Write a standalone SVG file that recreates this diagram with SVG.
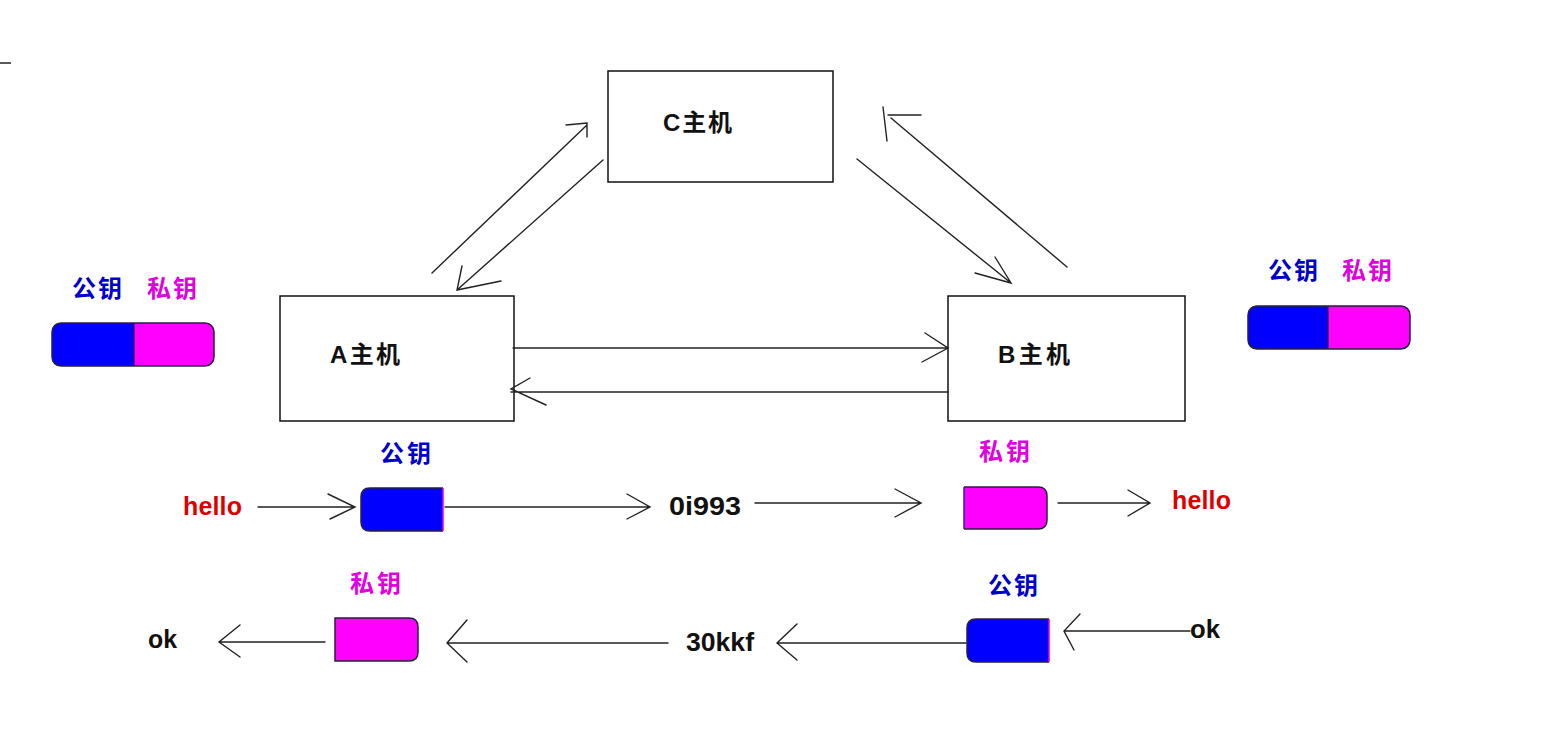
<svg xmlns="http://www.w3.org/2000/svg" width="1541" height="740" viewBox="0 0 1541 740">
<style>
.ln{stroke:#222;stroke-width:1.4;fill:none;stroke-linecap:round}
.box{fill:#fff;stroke:#111;stroke-width:1.5}
.t{font-family:"Liberation Sans","Noto Sans CJK SC",sans-serif;font-weight:bold}
.host{font-size:24px;fill:#111}
.pub{font-size:24px;fill:#0000cc}
.pri{font-size:24px;fill:#e000e0}
.red{font-size:25px;fill:#dd0000}
.blk{font-size:26px;fill:#111}
.bl{fill:#0000ff}
.mg{fill:#ff00ff}
.ol{fill:none;stroke:#2a1f40;stroke-width:1.5}
</style>
<rect width="1541" height="740" fill="#fff"/>
<line x1="0" y1="63" x2="11" y2="63" stroke="#222" stroke-width="1.5"/>

<g id="hostC">
<rect class="box" x="608" y="71" width="225" height="111"/>
<text class="t host" x="663" y="131" textLength="69" lengthAdjust="spacing">C主机</text>
</g>
<g id="hostA">
<rect class="box" x="280" y="296" width="234" height="125"/>
<text class="t host" x="330" y="363" textLength="70" lengthAdjust="spacing">A主机</text>
</g>
<g id="hostB">
<rect class="box" x="948" y="296" width="237" height="125"/>
<text class="t host" x="998" y="363" textLength="72" lengthAdjust="spacing">B主机</text>
</g>

<g id="keysA">
<text class="t pub" x="72" y="297" textLength="50" lengthAdjust="spacing">公钥</text>
<text class="t pri" x="147" y="297" textLength="50" lengthAdjust="spacing">私钥</text>
<path class="bl" d="M134,323 H61 Q52,323 52,332 V357 Q52,366 61,366 H134 Z"/>
<path class="mg" d="M134,323 H205 Q214,323 214,332 V357 Q214,366 205,366 H134 Z"/>
<rect class="ol" x="52" y="323" width="162" height="43" rx="9"/>
<line x1="134" y1="323" x2="134" y2="366" stroke="#2a1f40" stroke-width="1.3"/>
</g>
<g id="keysB">
<text class="t pub" x="1268" y="279" textLength="50" lengthAdjust="spacing">公钥</text>
<text class="t pri" x="1342" y="279" textLength="50" lengthAdjust="spacing">私钥</text>
<path class="bl" d="M1328,306 H1257 Q1248,306 1248,315 V340 Q1248,349 1257,349 H1328 Z"/>
<path class="mg" d="M1328,306 H1401 Q1410,306 1410,315 V340 Q1410,349 1401,349 H1328 Z"/>
<rect class="ol" x="1248" y="306" width="162" height="43" rx="9"/>
<line x1="1328" y1="306" x2="1328" y2="349" stroke="#2a1f40" stroke-width="1.3"/>
</g>

<g id="row1">
<text class="t red" x="183" y="515" textLength="59" lengthAdjust="spacing">hello</text>
<text class="t pub" x="380" y="462" textLength="51" lengthAdjust="spacing">公钥</text>
<path class="bl" d="M443,488 H370 Q361,488 361,497 V522 Q361,531 370,531 H443 Z"/>
<path class="ol" d="M443,488 H370 Q361,488 361,497 V522 Q361,531 370,531 H443"/>
<line x1="443" y1="488" x2="443" y2="531" stroke="#e000e0" stroke-width="1.5"/>
<text class="t blk" x="669" y="515" textLength="72" lengthAdjust="spacingAndGlyphs">0i993</text>
<text class="t pri" x="979" y="460" textLength="51" lengthAdjust="spacing">私钥</text>
<path class="mg" d="M964,487 H1038 Q1047,487 1047,496 V520 Q1047,529 1038,529 H964 Z"/>
<path class="ol" d="M964,487 H1038 Q1047,487 1047,496 V520 Q1047,529 1038,529 H964"/>
<line x1="964" y1="487" x2="964" y2="529" stroke="#2020c0" stroke-width="1.5"/>
<text class="t red" x="1172" y="509" textLength="59" lengthAdjust="spacing">hello</text>
</g>

<g id="row2">
<text class="t blk" x="148" y="648" textLength="29" lengthAdjust="spacingAndGlyphs">ok</text>
<text class="t pri" x="350" y="592" textLength="51" lengthAdjust="spacing">私钥</text>
<path class="mg" d="M335,618 H409 Q418,618 418,627 V652 Q418,661 409,661 H335 Z"/>
<path class="ol" d="M335,618 H409 Q418,618 418,627 V652 Q418,661 409,661 H335 Z"/>
<text class="t blk" x="686" y="651" textLength="68" lengthAdjust="spacingAndGlyphs">30kkf</text>
<text class="t pub" x="988" y="594" textLength="50" lengthAdjust="spacing">公钥</text>
<path class="bl" d="M1049,619 H976 Q967,619 967,628 V653 Q967,662 976,662 H1049 Z"/>
<path class="ol" d="M1049,619 H976 Q967,619 967,628 V653 Q967,662 976,662 H1049"/>
<line x1="1049" y1="619" x2="1049" y2="662" stroke="#e000e0" stroke-width="1.5"/>
<text class="t blk" x="1190" y="638" textLength="30" lengthAdjust="spacingAndGlyphs">ok</text>
</g>

<g id="connectors">
<path class="ln" d="M432,273 L587,125 M566,125 L587,123 L587,137"/>
<path class="ln" d="M603,160 L457,290 M462,266 L457,290 L501,281"/>
<path class="ln" d="M857,159 L1011,283 M995,257 L1011,283 L975,273"/>
<path class="ln" d="M1067,267 L891,118 M888,115 L921,115 M883,107 L887,141"/>
<path class="ln" d="M513,348 L948,348 M925,333 L948,348 L922,362"/>
<path class="ln" d="M948,392 L511,392 M530,378 L511,389 L546,405"/>
<path class="ln" d="M258,507 L355,507 M328,494 L355,507 L330,519"/>
<path class="ln" d="M445,507 L650,507 M627,494 L650,507 L627,519"/>
<path class="ln" d="M755,503 L921,503 M895,489 L921,503 L895,517"/>
<path class="ln" d="M1058,503 L1150,503 M1128,490 L1150,503 L1128,516"/>
<path class="ln" d="M325,642 L219,642 M240,625 L219,642 L240,657"/>
<path class="ln" d="M668,643 L447,643 M467,620 L447,643 L467,662"/>
<path class="ln" d="M966,643 L777,643 M797,624 L777,643 L797,660"/>
<path class="ln" d="M1190,631 L1064,631 M1080,614 L1064,631 L1074,650"/>
</g>
</svg>
